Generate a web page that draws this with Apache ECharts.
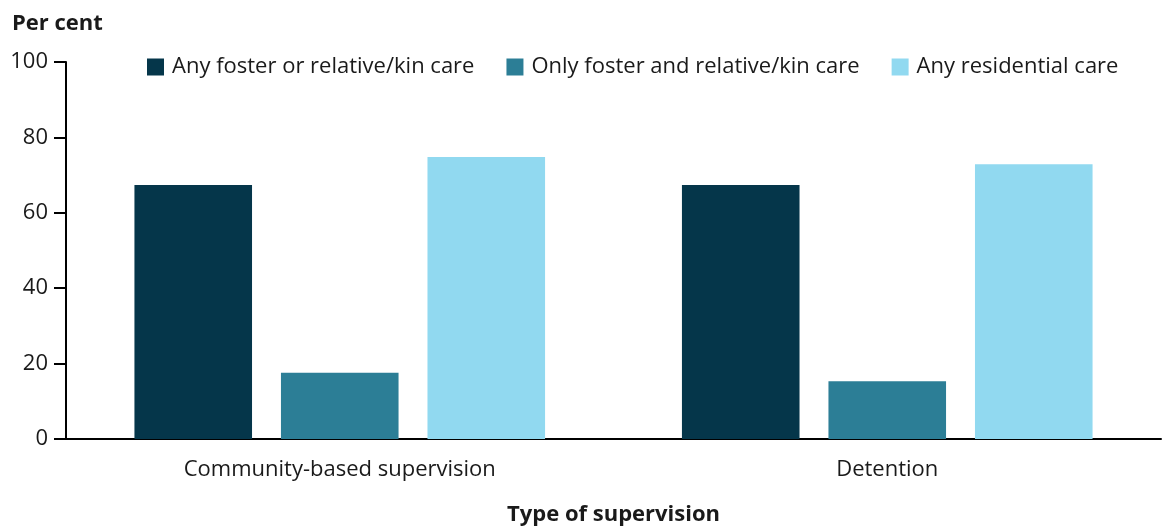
<!DOCTYPE html>
<html>
<head>
<meta charset="utf-8">
<script src="https://cdn.jsdelivr.net/npm/echarts@6/dist/echarts.min.js"></script>
<style>html,body{margin:0;padding:0;background:#fff}#c{width:1162px;height:531px}</style>
</head>
<body>
<div id="c"></div>
<script>
const categories = ['Community-based supervision', 'Detention'];
const seriesNames = ['Any foster or relative/kin care', 'Only foster and relative/kin care', 'Any residential care'];
const anyFosterKin = [67.4, 67.4];
const onlyFosterKin = [17.6, 15.3];
const anyResidential = [74.8, 72.9];
const yTicks = [0, 20, 40, 60, 80, 100];
const colors = ['#05364a', '#2c7e96', '#91d9f0'];
const FONT = '"Open Sans", "Noto Sans", sans-serif';
const chart = echarts.init(document.getElementById('c'), null, {renderer: 'canvas'});
const values = [anyFosterKin, onlyFosterKin, anyResidential];
chart.setOption({
  animation: false,
  textStyle: {fontFamily: FONT},
  title: {text: 'Per cent', left: 7, top: 8, textStyle: {fontFamily: FONT, fontSize: 22, fontWeight: 'bold', color: '#1a1a1a'}},
  legend: {
    left: 147, top: 56, padding: 0, itemWidth: 17, itemHeight: 17, itemGap: 32,
    icon: 'rect',
    textStyle: {fontFamily: FONT, fontSize: 22, lineHeight: 20, color: '#1a1a1a', padding: [0, 0, 0, 3]},
    data: seriesNames
  },
  grid: {left: 66, right: 1, top: 62, bottom: 88, containLabel: false},
  xAxis: {
    type: 'category', data: categories,
    axisLine: {lineStyle: {color: '#000', width: 2}},
    axisTick: {show: false},
    axisLabel: {fontFamily: FONT, fontSize: 22, color: '#1a1a1a', margin: 20},
    name: 'Type of supervision', nameLocation: 'middle', nameGap: 65,
    nameTextStyle: {fontFamily: FONT, fontSize: 22, fontWeight: 'bold', color: '#1a1a1a'}
  },
  yAxis: {
    type: 'value', min: 0, max: 100, interval: 20,
    axisLine: {show: true, lineStyle: {color: '#000', width: 2}},
    axisTick: {show: true, length: 12, lineStyle: {color: '#000', width: 2}},
    splitLine: {show: false},
    axisLabel: {fontFamily: FONT, fontSize: 22, color: '#1a1a1a', margin: 18,
      formatter: v => yTicks.includes(v) ? String(v) : ''}
  },
  series: seriesNames.map((n, i) => ({
    name: n, type: 'bar', data: values[i],
    itemStyle: {color: colors[i]},
    barGap: '24.6%', barCategoryGap: '25%'
  }))
});
</script>
</body>
</html>
